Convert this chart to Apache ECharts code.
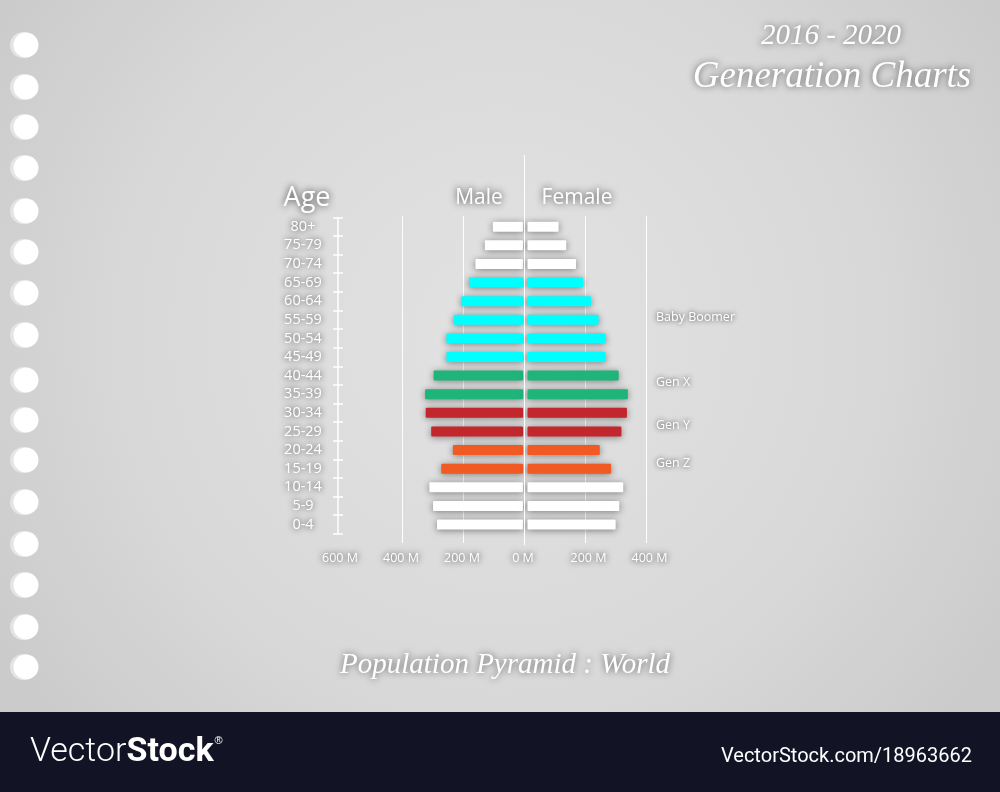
<!DOCTYPE html>
<html><head><meta charset="utf-8">
<script src="https://cdn.jsdelivr.net/npm/echarts@6/dist/echarts.min.js"></script>
<style>html,body{margin:0;padding:0;background:#d8d8d8;}#c{width:1000px;height:792px;}</style>
</head><body><div id="c"></div>
<script>
// ---- data ----
const ages = ['0-4','5-9','10-14','15-19','20-24','25-29','30-34','35-39','40-44','45-49','50-54','55-59','60-64','65-69','70-74','75-79','80+'];
const male = [282,295,307,268,230,301,319,321,293,251,251,227,202,177,156,125,99];
const female = [289,301,314,274,237,308,326,329,299,256,256,233,208,182,159,127,102];
const generation = ['','','','Gen Z','Gen Z','Gen Y','Gen Y','Gen X','Gen X','Baby Boomer','Baby Boomer','Baby Boomer','Baby Boomer','Baby Boomer','','',''];
const maleAxis = {min: 0, max: 600, interval: 200};
const femaleAxis = {min: 0, max: 400, interval: 200};
const genLabels = ['Baby Boomer','Gen X','Gen Y','Gen Z'];

// ---- styles ----
const genColor = {'':'#ffffff','Baby Boomer':'#00ffff','Gen X':'#1fb57a','Gen Y':'#c1272d','Gen Z':'#f15a22'};
const genLabelY = {'Baby Boomer':317,'Gen X':382,'Gen Y':425,'Gen Z':463};
const shadowTxt = {textShadowColor:'rgba(0,0,0,0.8)', textShadowBlur:6};
const font = '"Open Sans", "Noto Sans", sans-serif';

const chart = echarts.init(document.getElementById('c'), null, {renderer:'canvas'});

const holesY = [45,87,127,168,211,252,293,335,380,420,460,502,544,585,627,667];
const graphics = [];
holesY.forEach(y => {
  graphics.push({type:'circle', shape:{cx:23, cy:y, r:13}, style:{fill:'#e4e4e4'}, z:1});
  graphics.push({type:'circle', shape:{cx:26, cy:y, r:12.5}, style:{fill:'#ffffff'}, z:2});
});
graphics.push({type:'rect', shape:{x:0, y:712, width:1000, height:80}, style:{fill:'#131326'}, z:1});
function txt(text, x, y, size, opts) {
  return Object.assign({type:'text', z:10, style:Object.assign({
    text, x, y, fill:'#ffffff', fontSize:size, fontFamily:font,
    textAlign:'center', textVerticalAlign:'middle',
    textShadowColor:'rgba(0,0,0,0.8)', textShadowBlur:7
  }, opts || {})});
}
const scriptFont = '"Liberation Serif", "DejaVu Serif", serif';
graphics.push(txt('2016 - 2020', 831, 36, 29, {fontFamily:scriptFont, fontStyle:'italic', textShadowColor:'rgba(0,0,0,0.6)'}));
graphics.push(txt('Generation Charts', 832, 77, 37, {fontFamily:scriptFont, fontStyle:'italic', textShadowColor:'rgba(0,0,0,0.6)'}));
graphics.push(txt('Population Pyramid : World', 505, 665, 29, {fontFamily:scriptFont, fontStyle:'italic', textShadowColor:'rgba(0,0,0,0.6)'}));
graphics.push(txt('Age', 307, 198, 27));
graphics.push(txt('Male', 479, 198, 21));
graphics.push(txt('Female', 577, 198, 21));
genLabels.forEach(g => graphics.push(txt(g, 656, genLabelY[g], 12.5, {textAlign:'left', textShadowBlur:5})));
// footer watermark
graphics.push({type:'text', z:10, style:{
  text:'{a|Vector}{b|Stock}{c|®}', x:30, y:752, textVerticalAlign:'middle', textAlign:'left',
  rich:{
    a:{fontSize:34, fontFamily:'"Liberation Sans Narrow", "Roboto", sans-serif', fill:'#ffffff', fontWeight:300},
    b:{fontSize:34, fontFamily:'"Liberation Sans Narrow", "Roboto", sans-serif', fill:'#ffffff', fontWeight:'bold'},
    c:{fontSize:11, fontFamily:'"Liberation Sans", sans-serif', fill:'#ffffff', verticalAlign:'top', padding:[0,0,18,1]}
  }
}});
graphics.push({type:'text', z:10, style:{
  text:'VectorStock.com/18963662', x:972, y:757, textAlign:'right', textVerticalAlign:'middle',
  fontSize:20, fontFamily:'"Liberation Sans Narrow", "Roboto", sans-serif', fill:'#ffffff'
}});

const barStyle = (params) => genColor[generation[params.dataIndex]];
const axisLabelX = Object.assign({color:'#ffffff', fontSize:12.5, fontFamily:font, margin:18, formatter: v => v + ' M'}, shadowTxt);

chart.setOption({
  animation:false,
  backgroundColor:{type:'radial', x:0.5, y:0.42, r:0.75, colorStops:[
    {offset:0, color:'#e2e2e2'}, {offset:0.6, color:'#d9d9d9'}, {offset:1, color:'#cbcbcb'}]},
  graphic: graphics,
  grid:[
    {left:340, right:477, top:217.4, bottom:258.2},      // male
    {left:527.5, right:350.5, top:217.4, bottom:258.2},  // female
    {left:402, right:354, top:216, bottom:249},          // gridline frame
    {left:402, right:354, top:155, bottom:247}           // centre line
  ],
  xAxis:[
    Object.assign({type:'value', gridIndex:0, inverse:true, axisLine:{show:false}, axisTick:{show:false},
      splitLine:{show:false}, axisLabel:axisLabelX}, maleAxis),
    Object.assign({type:'value', gridIndex:1, axisLine:{show:false}, axisTick:{show:false},
      splitLine:{show:false}, axisLabel:Object.assign({}, axisLabelX, {showMinLabel:false})}, femaleAxis),
    {type:'value', gridIndex:2, min:-400, max:400, interval:200, axisLine:{show:false}, axisTick:{show:false},
      axisLabel:{show:false}, splitLine:{show:true, lineStyle:{color:'rgba(255,255,255,0.95)', width:1}}},
    {type:'value', gridIndex:3, min:-400, max:400, show:false}
  ],
  yAxis:[
    {type:'category', gridIndex:0, data:ages, position:'left', offset:2,
      axisLine:{show:true, onZero:false, lineStyle:{color:'#ffffff', width:1.5}},
      axisTick:{show:true, interval:0, length:5, lineStyle:{color:'#ffffff', width:1.5}},
      axisLabel:Object.assign({interval:0, color:'#ffffff', fontSize:14.5, fontFamily:font, align:'center', margin:35}, shadowTxt)},
    {type:'category', gridIndex:0, data:ages, position:'left', offset:2,
      axisLine:{show:false, onZero:false},
      axisTick:{show:true, interval:0, inside:true, length:5, lineStyle:{color:'#ffffff', width:1.5}},
      axisLabel:{show:false}},
    {type:'category', gridIndex:1, data:ages, show:false},
    {type:'value', gridIndex:2, min:0, max:1, show:false},
    {type:'value', gridIndex:3, min:0, max:1, show:false}
  ],
  series:[
    {name:'Male', type:'bar', xAxisIndex:0, yAxisIndex:0, data:male, barWidth:10,
      itemStyle:{color:barStyle, borderRadius:1, shadowBlur:7, shadowColor:'rgba(0,0,0,0.45)', shadowOffsetY:1}},
    {name:'Female', type:'bar', xAxisIndex:1, yAxisIndex:2, data:female, barWidth:10,
      itemStyle:{color:barStyle, borderRadius:1, shadowBlur:7, shadowColor:'rgba(0,0,0,0.45)', shadowOffsetY:1}},
    {type:'line', xAxisIndex:2, yAxisIndex:3, data:[], silent:true},
    {type:'line', xAxisIndex:3, yAxisIndex:4, data:[], silent:true,
      markLine:{silent:true, symbol:'none', label:{show:false},
        lineStyle:{color:'#ffffff', type:'solid', width:1}, data:[{xAxis:0}]}}
  ]
});
</script></body></html>
